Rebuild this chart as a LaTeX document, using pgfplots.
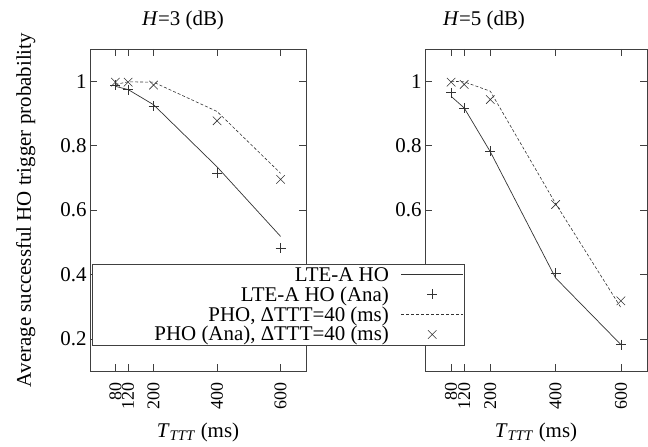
\documentclass[border=0pt]{standalone}
\usepackage{fontspec}
\setmainfont{Liberation Serif}
\usepackage{pgfplots}
\pgfplotsset{compat=1.18}
\newcommand\leg[1]{\makebox[303bp][r]{\rule[-4bp]{0pt}{15bp}#1\hspace{10bp}}}
\begin{document}
\begin{tikzpicture}
\useasboundingbox (-90bp,-76bp) rectangle (558bp,371bp);
\pgfplotsset{
  panel/.style={
    scale only axis, height=322bp,
    xmin=0, xmax=680, ymin=0.1, ymax=1.1,
    xtick={80,120,200,400,600}, ytick={0.2,0.4,0.6,0.8,1},
    tick align=inside, tick pos=both, major tick length=7bp,
    font=\fontsize{21}{24}\selectfont,
    /pgf/number format/assume math mode=true,
    xticklabel style={rotate=90, anchor=east, font=\fontsize{18}{20}\selectfont},
    xticklabel shift=8bp,
    xlabel={\textit{T}\textsubscript{\textit{TTT}} (ms)},
    xlabel style={yshift=-7bp},
    axis line style={line width=0.8pt, black!75},
    every tick/.style={black!75, line width=0.6pt},
  },
  lte/.style={draw=black!80, line width=0.7pt, mark=none},
  ana/.style={draw=black!80, only marks, mark=+, mark size=5bp, line width=0.6pt},
  pho/.style={draw=black!80, line width=0.6pt, dash pattern=on 3bp off 2bp, mark=none},
  phoana/.style={draw=black!80, only marks, mark=x, mark size=6bp, line width=0.6pt},
}
\begin{axis}[panel, width=216bp,
  title={\textit{H}=3 (dB)}, title style={yshift=10bp, xshift=-15bp},
  ylabel={Average successful HO trigger probability},
  ylabel style={yshift=18bp}]
\addplot[lte] coordinates {(80,0.984) (120,0.974) (200,0.927) (400,0.734) (600,0.518)};
\addplot[ana] coordinates {(80,0.987) (120,0.974) (200,0.922) (400,0.714) (600,0.482)};
\addplot[pho] coordinates {(80,0.99) (120,0.998) (200,0.997) (400,0.906) (600,0.714)};
\addplot[phoana] coordinates {(80,0.997) (120,0.997) (200,0.988) (400,0.877) (600,0.695)};
\end{axis}
\begin{axis}[panel, width=222bp, at={(335bp,0)},
  title={\textit{H}=5 (dB)}, title style={yshift=10bp, xshift=-52bp},
  legend cell align=right, legend plot pos=right,
  legend image code/.code={\draw[mark repeat=2,mark phase=2] plot coordinates {(0bp,0bp) (31bp,0bp) (62bp,0bp)};},
  legend style={at={(0.18,0.078)}, anchor=south east, fill=white,
    draw=black!75, line width=0.8pt, inner sep=1bp, row sep=0bp,
    font=\fontsize{21}{24}\selectfont}]
\addplot[lte] coordinates {(80,0.953) (120,0.917) (200,0.781) (400,0.389) (600,0.182)};
\addplot[ana] coordinates {(80,0.964) (120,0.917) (200,0.783) (400,0.403) (600,0.182)};
\addplot[pho] coordinates {(80,1.0) (120,0.998) (200,0.969) (400,0.62) (600,0.297)};
\addplot[phoana] coordinates {(80,0.997) (120,0.99) (200,0.943) (400,0.617) (600,0.318)};
\addlegendentry{\leg{LTE-A HO}}
\addlegendentry{\leg{LTE-A HO (Ana)}}
\addlegendentry{\leg{PHO, ΔTTT=40 (ms)}}
\addlegendentry{\leg{PHO (Ana), ΔTTT=40 (ms)}}
\end{axis}
\end{tikzpicture}
\end{document}
